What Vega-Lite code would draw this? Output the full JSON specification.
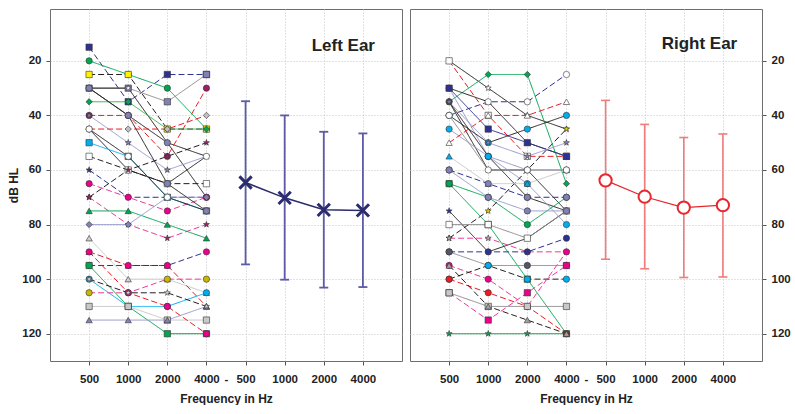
{
"$schema":"https://vega.github.io/schema/vega-lite/v6.json",
"background":"white",
"padding":{"left":7,"top":8,"right":0,"bottom":0},
"spacing":6,
"resolve":{"scale":{"color":"independent","fill":"independent","shape":"independent","strokeDash":"independent"},"legend":{"color":"independent","fill":"independent","shape":"independent","strokeDash":"independent"}},
"config":{
 "view":{"stroke":"#6e6e6e","strokeWidth":1},
 "axis":{"labelFont":"Liberation Sans","labelFontWeight":"bold","labelFontSize":11.5,"labelColor":"#222","titleFont":"Liberation Sans","titleFontWeight":"bold","titleFontSize":12,"titleColor":"#222","domain":false,"tickColor":"#555","tickSize":4,"gridColor":"#c4c4c4","gridDash":[1,2]}
},
"datasets":{
"left":[
{"s":"L1","i":1,"v":15},{"s":"L1","i":2,"v":35},{"s":"L1","i":3,"v":25},{"s":"L1","i":4,"v":25},
{"s":"L2","i":1,"v":20},{"s":"L2","i":2,"v":25},{"s":"L2","i":3,"v":30},{"s":"L2","i":4,"v":45},
{"s":"L3","i":1,"v":25},{"s":"L3","i":2,"v":25},{"s":"L3","i":3,"v":45},{"s":"L3","i":4,"v":45},
{"s":"L4","i":1,"v":30},{"s":"L4","i":2,"v":30},{"s":"L4","i":3,"v":35},{"s":"L4","i":4,"v":25},
{"s":"L5","i":1,"v":30},{"s":"L5","i":2,"v":30},{"s":"L5","i":3,"v":50},{"s":"L5","i":4,"v":55},
{"s":"L6","i":1,"v":30},{"s":"L6","i":2,"v":40},{"s":"L6","i":3,"v":50},{"s":"L6","i":4,"v":70},
{"s":"L7","i":1,"v":35},{"s":"L7","i":2,"v":35},{"s":"L7","i":3,"v":45},{"s":"L7","i":4,"v":45},
{"s":"L8","i":1,"v":40},{"s":"L8","i":2,"v":40},{"s":"L8","i":3,"v":55},{"s":"L8","i":4,"v":30},
{"s":"L9","i":1,"v":40},{"s":"L9","i":2,"v":50},{"s":"L9","i":3,"v":60},{"s":"L9","i":4,"v":55},
{"s":"L10","i":1,"v":45},{"s":"L10","i":2,"v":60},{"s":"L10","i":3,"v":65},{"s":"L10","i":4,"v":55},
{"s":"L11","i":1,"v":45},{"s":"L11","i":2,"v":45},{"s":"L11","i":3,"v":45},{"s":"L11","i":4,"v":40},
{"s":"L12","i":1,"v":50},{"s":"L12","i":2,"v":55},{"s":"L12","i":3,"v":70},{"s":"L12","i":4,"v":75},
{"s":"L13","i":1,"v":55},{"s":"L13","i":2,"v":60},{"s":"L13","i":3,"v":65},{"s":"L13","i":4,"v":65},
{"s":"L14","i":1,"v":60},{"s":"L14","i":2,"v":70},{"s":"L14","i":3,"v":70},{"s":"L14","i":4,"v":70},
{"s":"L15","i":1,"v":65},{"s":"L15","i":2,"v":70},{"s":"L15","i":3,"v":75},{"s":"L15","i":4,"v":70},
{"s":"L16","i":1,"v":70},{"s":"L16","i":2,"v":80},{"s":"L16","i":3,"v":85},{"s":"L16","i":4,"v":80},
{"s":"L17","i":1,"v":75},{"s":"L17","i":2,"v":75},{"s":"L17","i":3,"v":80},{"s":"L17","i":4,"v":85},
{"s":"L18","i":1,"v":80},{"s":"L18","i":2,"v":80},{"s":"L18","i":3,"v":70},{"s":"L18","i":4,"v":70},
{"s":"L19","i":1,"v":85},{"s":"L19","i":2,"v":100},{"s":"L19","i":3,"v":100},{"s":"L19","i":4,"v":105},
{"s":"L20","i":1,"v":90},{"s":"L20","i":2,"v":95},{"s":"L20","i":3,"v":95},{"s":"L20","i":4,"v":110},
{"s":"L21","i":1,"v":95},{"s":"L21","i":2,"v":95},{"s":"L21","i":3,"v":95},{"s":"L21","i":4,"v":90},
{"s":"L22","i":1,"v":95},{"s":"L22","i":2,"v":110},{"s":"L22","i":3,"v":120},{"s":"L22","i":4,"v":120},
{"s":"L23","i":1,"v":100},{"s":"L23","i":2,"v":110},{"s":"L23","i":3,"v":110},{"s":"L23","i":4,"v":105},
{"s":"L24","i":1,"v":105},{"s":"L24","i":2,"v":105},{"s":"L24","i":3,"v":100},{"s":"L24","i":4,"v":100},
{"s":"L25","i":1,"v":110},{"s":"L25","i":2,"v":110},{"s":"L25","i":3,"v":115},{"s":"L25","i":4,"v":115},
{"s":"L26","i":1,"v":115},{"s":"L26","i":2,"v":115},{"s":"L26","i":3,"v":115},{"s":"L26","i":4,"v":110},
{"s":"L27","i":1,"v":90},{"s":"L27","i":2,"v":105},{"s":"L27","i":3,"v":110},{"s":"L27","i":4,"v":120},
{"s":"L28","i":1,"v":100},{"s":"L28","i":2,"v":105},{"s":"L28","i":3,"v":105},{"s":"L28","i":4,"v":110},
{"s":"L29","i":1,"v":70},{"s":"L29","i":2,"v":60},{"s":"L29","i":3,"v":55},{"s":"L29","i":4,"v":50},
{"s":"L30","i":1,"v":45},{"s":"L30","i":2,"v":55},{"s":"L30","i":3,"v":70},{"s":"L30","i":4,"v":75},
{"s":"L31","i":1,"v":30},{"s":"L31","i":2,"v":40},{"s":"L31","i":3,"v":65},{"s":"L31","i":4,"v":75}
],
"right":[
{"s":"R1","i":1,"v":20},{"s":"R1","i":2,"v":30},{"s":"R1","i":3,"v":40},{"s":"R1","i":4,"v":45},
{"s":"R2","i":1,"v":20},{"s":"R2","i":2,"v":40},{"s":"R2","i":3,"v":55},{"s":"R2","i":4,"v":55},
{"s":"R3","i":1,"v":35},{"s":"R3","i":2,"v":25},{"s":"R3","i":3,"v":25},{"s":"R3","i":4,"v":65},
{"s":"R4","i":1,"v":30},{"s":"R4","i":2,"v":35},{"s":"R4","i":3,"v":50},{"s":"R4","i":4,"v":55},
{"s":"R5","i":1,"v":30},{"s":"R5","i":2,"v":55},{"s":"R5","i":3,"v":60},{"s":"R5","i":4,"v":60},
{"s":"R6","i":1,"v":35},{"s":"R6","i":2,"v":60},{"s":"R6","i":3,"v":60},{"s":"R6","i":4,"v":75},
{"s":"R7","i":1,"v":35},{"s":"R7","i":2,"v":55},{"s":"R7","i":3,"v":70},{"s":"R7","i":4,"v":75},
{"s":"R8","i":1,"v":40},{"s":"R8","i":2,"v":35},{"s":"R8","i":3,"v":35},{"s":"R8","i":4,"v":25},
{"s":"R9","i":1,"v":45},{"s":"R9","i":2,"v":55},{"s":"R9","i":3,"v":65},{"s":"R9","i":4,"v":80},
{"s":"R10","i":1,"v":30},{"s":"R10","i":2,"v":45},{"s":"R10","i":3,"v":50},{"s":"R10","i":4,"v":55},
{"s":"R11","i":1,"v":50},{"s":"R11","i":2,"v":40},{"s":"R11","i":3,"v":40},{"s":"R11","i":4,"v":35},
{"s":"R12","i":1,"v":40},{"s":"R12","i":2,"v":50},{"s":"R12","i":3,"v":45},{"s":"R12","i":4,"v":40},
{"s":"R17","i":1,"v":65},{"s":"R17","i":2,"v":80},{"s":"R17","i":3,"v":100},{"s":"R17","i":4,"v":120},
{"s":"R13","i":1,"v":65},{"s":"R13","i":2,"v":70},{"s":"R13","i":3,"v":80},{"s":"R13","i":4,"v":70},
{"s":"R14","i":1,"v":75},{"s":"R14","i":2,"v":90},{"s":"R14","i":3,"v":85},{"s":"R14","i":4,"v":75},
{"s":"R15","i":1,"v":85},{"s":"R15","i":2,"v":75},{"s":"R15","i":3,"v":60},{"s":"R15","i":4,"v":45},
{"s":"R16","i":1,"v":80},{"s":"R16","i":2,"v":80},{"s":"R16","i":3,"v":85},{"s":"R16","i":4,"v":75},
{"s":"R18","i":1,"v":85},{"s":"R18","i":2,"v":85},{"s":"R18","i":3,"v":90},{"s":"R18","i":4,"v":90},
{"s":"R19","i":1,"v":90},{"s":"R19","i":2,"v":90},{"s":"R19","i":3,"v":90},{"s":"R19","i":4,"v":85},
{"s":"R20","i":1,"v":95},{"s":"R20","i":2,"v":100},{"s":"R20","i":3,"v":110},{"s":"R20","i":4,"v":90},
{"s":"R21","i":1,"v":90},{"s":"R21","i":2,"v":95},{"s":"R21","i":3,"v":95},{"s":"R21","i":4,"v":95},
{"s":"R22","i":1,"v":100},{"s":"R22","i":2,"v":95},{"s":"R22","i":3,"v":100},{"s":"R22","i":4,"v":100},
{"s":"R23","i":1,"v":100},{"s":"R23","i":2,"v":105},{"s":"R23","i":3,"v":110},{"s":"R23","i":4,"v":120},
{"s":"R24","i":1,"v":105},{"s":"R24","i":2,"v":115},{"s":"R24","i":3,"v":105},{"s":"R24","i":4,"v":95},
{"s":"R25","i":1,"v":105},{"s":"R25","i":2,"v":110},{"s":"R25","i":3,"v":110},{"s":"R25","i":4,"v":110},
{"s":"R26","i":1,"v":120},{"s":"R26","i":2,"v":120},{"s":"R26","i":3,"v":120},{"s":"R26","i":4,"v":120},
{"s":"R27","i":1,"v":55},{"s":"R27","i":2,"v":65},{"s":"R27","i":3,"v":65},{"s":"R27","i":4,"v":60},
{"s":"R28","i":1,"v":60},{"s":"R28","i":2,"v":65},{"s":"R28","i":3,"v":70},{"s":"R28","i":4,"v":70},
{"s":"R29","i":1,"v":60},{"s":"R29","i":2,"v":70},{"s":"R29","i":3,"v":75},{"s":"R29","i":4,"v":75},
{"s":"R30","i":1,"v":35},{"s":"R30","i":2,"v":50},{"s":"R30","i":3,"v":55},{"s":"R30","i":4,"v":50},
{"s":"R31","i":1,"v":95},{"s":"R31","i":2,"v":110},{"s":"R31","i":3,"v":115},{"s":"R31","i":4,"v":120},
{"s":"R32","i":1,"v":40},{"s":"R32","i":2,"v":60},{"s":"R32","i":3,"v":60},{"s":"R32","i":4,"v":60}
],
"leftMean":[
{"i":5,"m":64.6,"lo":34.8,"hi":94.6},{"i":6,"m":70.2,"lo":40.0,"hi":100.2},{"i":7,"m":74.6,"lo":46.0,"hi":103.1},{"i":8,"m":74.8,"lo":46.6,"hi":102.9}
],
"rightMean":[
{"i":5,"m":63.8,"lo":34.5,"hi":92.7},{"i":6,"m":69.8,"lo":43.3,"hi":96.2},{"i":7,"m":73.8,"lo":48.1,"hi":99.4},{"i":8,"m":72.9,"lo":46.8,"hi":99.2}
]
},
"hconcat":[
{
 "width":352,"height":352,
 "layer":[
  {"data":{"name":"left"},"mark":{"type":"line","strokeWidth":1},
   "encoding":{
    "x":{"field":"i","type":"quantitative","scale":{"domain":[0,9],"nice":false,"zero":false},
      "axis":{"values":[1,2,3,4,4.5,5,6,7,8],"labelExpr":"datum.value==4.5?'-':(datum.value==1||datum.value==5)?'500':(datum.value==2||datum.value==6)?'1000':(datum.value==3||datum.value==7)?'2000':'4000'","title":"Frequency in Hz","grid":true,"labelPadding":8,"labelDx":3,"titlePadding":9,"labelFlush":false,"labelOverlap":false,
        "gridOpacity":{"condition":{"test":"datum.value==4.5","value":0},"value":1},
        "tickOpacity":{"condition":{"test":"datum.value==4.5","value":0},"value":1}}},
    "y":{"field":"v","type":"quantitative","scale":{"domain":[1,130],"reverse":true,"nice":false,"zero":false},
      "axis":{"values":[20,40,60,80,100,120],"title":"dB HL","grid":true,"labelPadding":5,"titlePadding":1}},
    "detail":{"field":"s"},
    "color":{"field":"s","type":"nominal","legend":null,"scale":{
      "domain":["L1","L2","L3","L4","L5","L6","L7","L8","L9","L10","L11","L12","L13","L14","L15","L16","L17","L18","L19","L20","L21","L22","L23","L24","L25","L26","L27","L28","L29","L30","L31"],
      "range":["#2E3192","#00A651","#231F20","#8C8C8C","#231F20","#231F20","#39B54A","#ED1C24","#9999CC","#231F20","#ED1C24","#00AEEF","#231F20","#2E3192","#EC3B95","#EC3B95","#00A651","#9999CC","#C8C8C8","#ED1C24","#2E3192","#00A651","#00AEEF","#EC3B95","#C8C8C8","#9999CC","#ED1C24","#231F20","#231F20","#231F20","#231F20"]}},
    "strokeDash":{"field":"s","type":"nominal","legend":null,"scale":{
      "domain":["L1","L2","L3","L4","L5","L6","L7","L8","L9","L10","L11","L12","L13","L14","L15","L16","L17","L18","L19","L20","L21","L22","L23","L24","L25","L26","L27","L28","L29","L30","L31"],
      "range":[[6,3],[1,0],[6,3],[1,0],[1,0],[1,0],[1,0],[6,3],[1,0],[1,0],[6,3],[1,0],[6,3],[6,3],[6,3],[6,3],[1,0],[1,0],[1,0],[6,3],[6,3],[1,0],[1,0],[6,3],[1,0],[1,0],[6,3],[6,3],[6,3],[1,0],[1,0]]}}
   }},
  {"data":{"name":"left"},"mark":{"type":"point","filled":true,"stroke":"#333","strokeWidth":0.6,"size":40,"opacity":1},
   "encoding":{
    "x":{"field":"i","type":"quantitative"},
    "y":{"field":"v","type":"quantitative"},
    "shape":{"field":"s","type":"nominal","legend":null,"scale":{
      "domain":["L1","L2","L3","L4","L5","L6","L7","L8","L9","L10","L11","L12","L13","L14","L15","L16","L17","L18","L19","L20","L21","L22","L23","L24","L25","L26","L27","L28","L29","L30","L31"],
      "range":["square","circle","square","square","M0,-1L0.235,-0.324L0.951,-0.309L0.38,0.124L0.588,0.809L0,0.4L-0.588,0.809L-0.38,0.124L-0.951,-0.309L-0.235,-0.324Z","circle","diamond","circle","M0,-1L0.235,-0.324L0.951,-0.309L0.38,0.124L0.588,0.809L0,0.4L-0.588,0.809L-0.38,0.124L-0.951,-0.309L-0.235,-0.324Z","circle","diamond","square","square","M0,-1L0.235,-0.324L0.951,-0.309L0.38,0.124L0.588,0.809L0,0.4L-0.588,0.809L-0.38,0.124L-0.951,-0.309L-0.235,-0.324Z","circle","M0,-1L0.235,-0.324L0.951,-0.309L0.38,0.124L0.588,0.809L0,0.4L-0.588,0.809L-0.38,0.124L-0.951,-0.309L-0.235,-0.324Z","triangle-up","diamond","triangle-up","triangle-up","circle","square","circle","circle","square","triangle-up","circle","M0,-1L0.235,-0.324L0.951,-0.309L0.38,0.124L0.588,0.809L0,0.4L-0.588,0.809L-0.38,0.124L-0.951,-0.309L-0.235,-0.324Z","M0,-1L0.235,-0.324L0.951,-0.309L0.38,0.124L0.588,0.809L0,0.4L-0.588,0.809L-0.38,0.124L-0.951,-0.309L-0.235,-0.324Z","circle","circle"]}},
    "fill":{"field":"s","type":"nominal","legend":null,"scale":{
      "domain":["L1","L2","L3","L4","L5","L6","L7","L8","L9","L10","L11","L12","L13","L14","L15","L16","L17","L18","L19","L20","L21","L22","L23","L24","L25","L26","L27","L28","L29","L30","L31"],
      "range":["#2E3192","#00A651","#FFF200","#8181B5","#FFFFFF","#8181B5","#00A651","#9E1F63","#8181B5","#FFFFFF","#C0C0C0","#00AEEF","#FFFFFF","#2E3192","#EC008C","#9E1F63","#00A651","#8181B5","#D0D0D0","#EC008C","#EC008C","#00A651","#00AEEF","#C9B800","#C8C8C8","#8181B5","#EC008C","#D0D0D0","#9E1F63","#FFFFFF","#8181B5"]}}
   }},
  {"data":{"name":"leftMean"},"mark":{"type":"rule","color":"#5B5BA8","strokeWidth":1.8},
   "encoding":{"x":{"field":"i","type":"quantitative"},"y":{"field":"lo","type":"quantitative"},"y2":{"field":"hi"}}},
  {"data":{"name":"leftMean"},"mark":{"type":"tick","orient":"horizontal","size":9,"thickness":1.8,"color":"#5B5BA8","opacity":1},
   "encoding":{"x":{"field":"i","type":"quantitative"},"y":{"field":"lo","type":"quantitative"}}},
  {"data":{"name":"leftMean"},"mark":{"type":"tick","orient":"horizontal","size":9,"thickness":1.8,"color":"#5B5BA8","opacity":1},
   "encoding":{"x":{"field":"i","type":"quantitative"},"y":{"field":"hi","type":"quantitative"}}},
  {"data":{"name":"leftMean"},"mark":{"type":"line","color":"#2B2B6E","strokeWidth":1.5},
   "encoding":{"x":{"field":"i","type":"quantitative"},"y":{"field":"m","type":"quantitative"}}},
  {"data":{"name":"leftMean"},"mark":{"type":"point","shape":"M-1,-1L1,1M-1,1L1,-1","size":150,"strokeWidth":3,"color":"#2B2B6E","filled":false,"opacity":1},
   "encoding":{"x":{"field":"i","type":"quantitative"},"y":{"field":"m","type":"quantitative"}}},
  {"data":{"values":[{}]},"mark":{"type":"text","text":"Left Ear","font":"Liberation Sans","fontSize":17,"fontWeight":"bold","color":"#222"},
   "encoding":{"x":{"datum":7.5,"type":"quantitative"},"y":{"datum":14.5,"type":"quantitative"}}}
 ]
},
{
 "width":352,"height":352,
 "layer":[
  {"data":{"name":"right"},"mark":{"type":"line","strokeWidth":1},
   "encoding":{
    "x":{"field":"i","type":"quantitative","scale":{"domain":[0,9],"nice":false,"zero":false},
      "axis":{"values":[1,2,3,4,4.5,5,6,7,8],"labelExpr":"datum.value==4.5?'-':(datum.value==1||datum.value==5)?'500':(datum.value==2||datum.value==6)?'1000':(datum.value==3||datum.value==7)?'2000':'4000'","title":"Frequency in Hz","grid":true,"labelPadding":8,"labelDx":3,"titlePadding":9,"labelFlush":false,"labelOverlap":false,
        "gridOpacity":{"condition":{"test":"datum.value==4.5","value":0},"value":1},
        "tickOpacity":{"condition":{"test":"datum.value==4.5","value":0},"value":1}}},
    "y":{"field":"v","type":"quantitative","scale":{"domain":[1,130],"reverse":true,"nice":false,"zero":false},
      "axis":{"orient":"right","values":[20,40,60,80,100,120],"title":null,"grid":true,"labelPadding":5}},
    "detail":{"field":"s"},
    "color":{"field":"s","type":"nominal","legend":null,"scale":{
      "domain":["R1","R2","R3","R4","R5","R6","R7","R8","R9","R10","R11","R12","R13","R14","R15","R16","R17","R18","R19","R20","R21","R22","R23","R24","R25","R26","R27","R28","R29","R30","R31","R32"],
      "range":["#231F20","#ED1C24","#00A651","#231F20","#9999CC","#231F20","#231F20","#2E3192","#9999CC","#2E3192","#ED1C24","#231F20","#00A651","#231F20","#231F20","#8C8C8C","#00A651","#EC3B95","#2E3192","#EC3B95","#8C8C8C","#231F20","#ED1C24","#EC3B95","#8C8C8C","#00A651","#C8C8C8","#2E3192","#9999CC","#9999CC","#231F20","#8C8C8C"]}},
    "strokeDash":{"field":"s","type":"nominal","legend":null,"scale":{
      "domain":["R1","R2","R3","R4","R5","R6","R7","R8","R9","R10","R11","R12","R13","R14","R15","R16","R17","R18","R19","R20","R21","R22","R23","R24","R25","R26","R27","R28","R29","R30","R31","R32"],
      "range":[[1,0],[6,3],[1,0],[1,0],[1,0],[1,0],[1,0],[6,3],[1,0],[1,0],[6,3],[1,0],[1,0],[1,0],[6,3],[1,0],[1,0],[6,3],[6,3],[6,3],[1,0],[6,3],[6,3],[6,3],[1,0],[1,0],[1,0],[6,3],[1,0],[1,0],[6,3],[1,0]]}}
   }},
  {"data":{"name":"right"},"mark":{"type":"point","filled":true,"stroke":"#333","strokeWidth":0.6,"size":40,"opacity":1},
   "encoding":{
    "x":{"field":"i","type":"quantitative"},
    "y":{"field":"v","type":"quantitative"},
    "shape":{"field":"s","type":"nominal","legend":null,"scale":{
      "domain":["R1","R2","R3","R4","R5","R6","R7","R8","R9","R10","R11","R12","R13","R14","R15","R16","R17","R18","R19","R20","R21","R22","R23","R24","R25","R26","R27","R28","R29","R30","R31","R32"],
      "range":["M0,-1L0.235,-0.324L0.951,-0.309L0.38,0.124L0.588,0.809L0,0.4L-0.588,0.809L-0.38,0.124L-0.951,-0.309L-0.235,-0.324Z","square","diamond","triangle-up","circle","M0,-1L0.235,-0.324L0.951,-0.309L0.38,0.124L0.588,0.809L0,0.4L-0.588,0.809L-0.38,0.124L-0.951,-0.309L-0.235,-0.324Z","circle","circle","circle","square","triangle-up","circle","circle","M0,-1L0.235,-0.324L0.951,-0.309L0.38,0.124L0.588,0.809L0,0.4L-0.588,0.809L-0.38,0.124L-0.951,-0.309L-0.235,-0.324Z","M0,-1L0.235,-0.324L0.951,-0.309L0.38,0.124L0.588,0.809L0,0.4L-0.588,0.809L-0.38,0.124L-0.951,-0.309L-0.235,-0.324Z","square","square","M0,-1L0.235,-0.324L0.951,-0.309L0.38,0.124L0.588,0.809L0,0.4L-0.588,0.809L-0.38,0.124L-0.951,-0.309L-0.235,-0.324Z","circle","circle","circle","circle","circle","square","square","M0,-1L0.235,-0.324L0.951,-0.309L0.38,0.124L0.588,0.809L0,0.4L-0.588,0.809L-0.38,0.124L-0.951,-0.309L-0.235,-0.324Z","triangle-up","circle","circle","M0,-1L0.235,-0.324L0.951,-0.309L0.38,0.124L0.588,0.809L0,0.4L-0.588,0.809L-0.38,0.124L-0.951,-0.309L-0.235,-0.324Z","triangle-up","circle"]}},
    "fill":{"field":"s","type":"nominal","legend":null,"scale":{
      "domain":["R1","R2","R3","R4","R5","R6","R7","R8","R9","R10","R11","R12","R13","R14","R15","R16","R17","R18","R19","R20","R21","R22","R23","R24","R25","R26","R27","R28","R29","R30","R31","R32"],
      "range":["#FFFFFF","#FFFFFF","#00A651","#FFFFFF","#8181B5","#555566","#555566","#FFFFFF","#00AEEF","#2E3192","#FFFFFF","#00AEEF","#00A651","#2E3192","#E5D300","#FFFFFF","#00A651","#B0B0B0","#2E3192","#EC008C","#555566","#00AEEF","#ED1C24","#EC008C","#C8C8C8","#00A651","#00AEEF","#8181B5","#8181B5","#8181B5","#A0A0A0","#FFFFFF"]}}
   }},
  {"data":{"name":"rightMean"},"mark":{"type":"rule","color":"#F07C7C","strokeWidth":1.6},
   "encoding":{"x":{"field":"i","type":"quantitative"},"y":{"field":"lo","type":"quantitative"},"y2":{"field":"hi"}}},
  {"data":{"name":"rightMean"},"mark":{"type":"tick","orient":"horizontal","size":9,"thickness":1.6,"color":"#F07C7C","opacity":1},
   "encoding":{"x":{"field":"i","type":"quantitative"},"y":{"field":"lo","type":"quantitative"}}},
  {"data":{"name":"rightMean"},"mark":{"type":"tick","orient":"horizontal","size":9,"thickness":1.6,"color":"#F07C7C","opacity":1},
   "encoding":{"x":{"field":"i","type":"quantitative"},"y":{"field":"hi","type":"quantitative"}}},
  {"data":{"name":"rightMean"},"mark":{"type":"line","color":"#E8262D","strokeWidth":1.2},
   "encoding":{"x":{"field":"i","type":"quantitative"},"y":{"field":"m","type":"quantitative"}}},
  {"data":{"name":"rightMean"},"mark":{"type":"point","shape":"circle","size":150,"strokeWidth":2,"filled":true,"fill":"#FFFFFF","stroke":"#E8262D","opacity":1},
   "encoding":{"x":{"field":"i","type":"quantitative"},"y":{"field":"m","type":"quantitative"}}},
  {"data":{"values":[{}]},"mark":{"type":"text","text":"Right Ear","font":"Liberation Sans","fontSize":17,"fontWeight":"bold","color":"#222"},
   "encoding":{"x":{"datum":7.4,"type":"quantitative"},"y":{"datum":13.9,"type":"quantitative"}}}
 ]
}
]
}
